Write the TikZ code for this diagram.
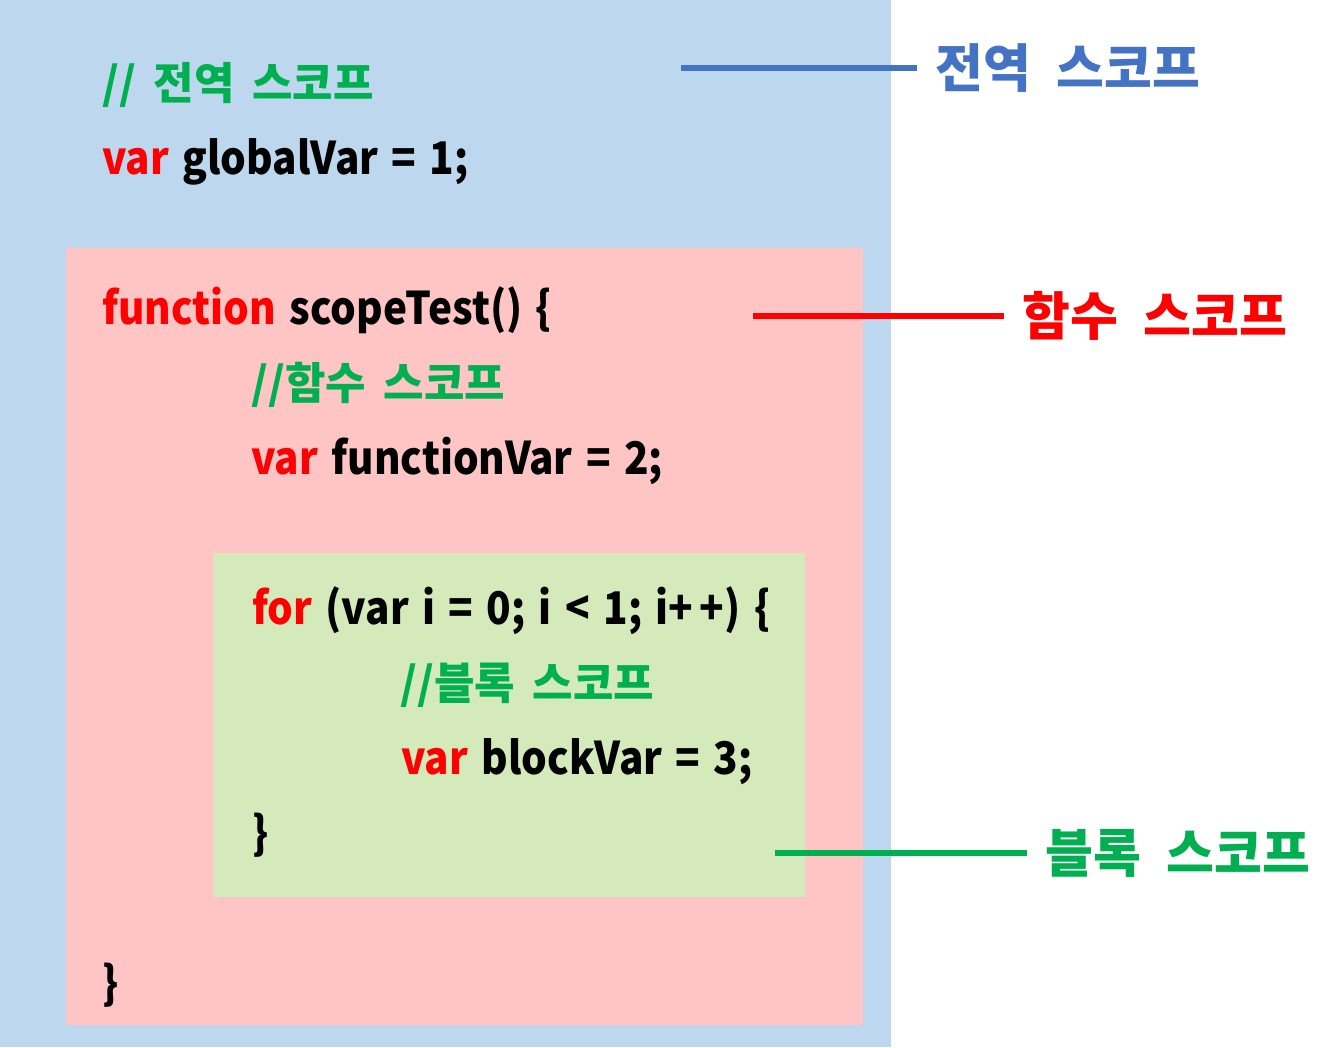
\documentclass[tikz,border=0pt]{standalone}
\usepackage{fontspec}
\setmainfont{Noto Sans CJK KR}
\usepackage{tikz}
\usetikzlibrary{positioning}
\definecolor{globalBlau}{RGB}{189,215,238}
\definecolor{funktionRosa}{RGB}{255,197,197}
\definecolor{blockGruen}{RGB}{213,234,187}
\definecolor{kommentarGruen}{RGB}{0,176,80}
\definecolor{schluesselRot}{RGB}{255,0,0}
\definecolor{linieBlau}{RGB}{68,114,196}
\newcommand{\kw}[1]{\textcolor{schluesselRot}{#1}}
\newcommand{\weit}[1]{\spaceskip=#1em\relax}

\begin{document}
\begin{tikzpicture}[x=1pt,y=-1pt,
  code/.style={anchor=base west,inner sep=0pt,xscale=0.9,
    font=\fontsize{45}{45}\selectfont\bfseries,execute at begin node=\weit{0.33}},
  kommentar/.style={anchor=base west,inner sep=0pt,text=kommentarGruen,
    font=\fontsize{44}{44}\selectfont\bfseries,execute at begin node=\weit{0.4}},
  etikett/.style={anchor=west,inner sep=0pt,
    font=\fontsize{52}{52}\selectfont\bfseries,execute at begin node=\weit{0.5}},
  zeiger/.style={line width=5.5pt,shorten >=18pt}]
%Bildgroesse wie Vorlage in Pixel
\useasboundingbox (0,0) rectangle (1340,1047);
%Grundlinie der Zeilen: 24+75*k
  \pgfmathsetmacro{\zA}{24}
  \pgfmathsetmacro{\dz}{75}
%Bereiche
\fill[globalBlau] (0,0) rectangle (891,1047);
\fill[funktionRosa] (66,248) rectangle (863,1025);
\fill[blockGruen] (213,553) rectangle (805,897);
%Code
\node[kommentar] (kommentarGlobal) at (102,\zA+\dz) {// 전역 스코프};
\node[code] (globalVar) at (102,\zA+2*\dz) {\kw{var} globalVar = 1;};
\node[code] (funktionKopf) at (102,\zA+4*\dz) {\kw{function} scopeTest() \{};
\node[kommentar] (kommentarFunktion) at (251,\zA+5*\dz) {//함수 스코프};
\node[code] (functionVar) at (251,\zA+6*\dz) {\kw{var} functionVar = 2;};
\node[code] (schleifenKopf) at (252,\zA+8*\dz) {\kw{for} (var i = 0; i < 1; i+\,+) \{};
\node[kommentar] (kommentarBlock) at (400,\zA+9*\dz) {//블록 스코프};
\node[code] (blockVar) at (401,\zA+10*\dz) {\kw{var} blockVar = 3;};
\node[code] (schleifenEnde) at (252,\zA+11*\dz) {\}};
\node[code] (funktionEnde) at (102,\zA+13*\dz) {\}};
%Beschriftung rechts mit Linien
\foreach \nr/\farbe/\y/\von/\bis/\txt in {1/linieBlau/68/681/935/전역 스코프,2/schluesselRot/316/753/1022/함수 스코프,3/kommentarGruen/853/775/1045/블록 스코프}{
  \node[etikett,text=\farbe] (etikett\nr) at (\bis,\y) {\txt};
  \coordinate (anfang\nr) at (\von,\y);
  \draw[zeiger,\farbe] (anfang\nr) -- (etikett\nr.west);
}
\end{tikzpicture}
\end{document}
